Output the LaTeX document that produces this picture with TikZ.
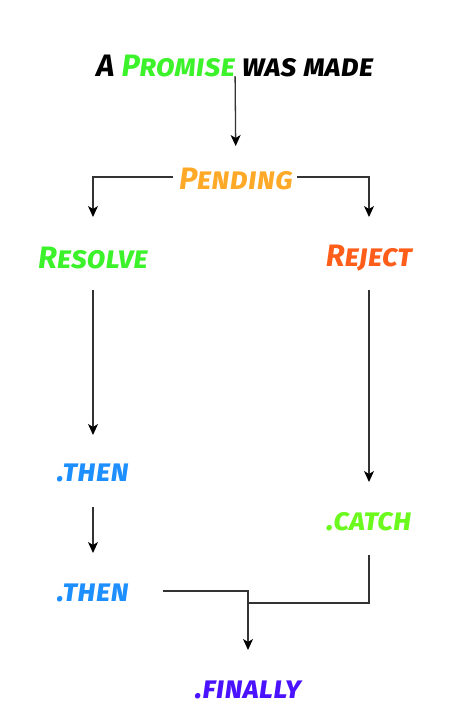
\documentclass[tikz,border=0pt]{standalone}
\usepackage{fontspec}
\setmainfont{Fira Sans}
\usetikzlibrary{arrows.meta}
\definecolor{promisegreen}{HTML}{3CF22A}
\definecolor{pendingorange}{HTML}{FFA928}
\definecolor{rejectorange}{HTML}{FF5E1A}
\definecolor{thenblue}{HTML}{1E8FFF}
\definecolor{catchgreen}{HTML}{6CFA1E}
\definecolor{finallypurple}{HTML}{4A12FF}
\definecolor{linegray}{HTML}{333333}
\tikzset{
    label/.style={inner sep=0pt, font=\fontsize{31}{34}\selectfont\bfseries\itshape\scshape},
    flow/.style={linegray, line width=1.3pt, -{Stealth[length=11pt,width=10pt,inset=3pt,black]}}
}
\begin{document}
\begin{tikzpicture}[x=1pt,y=-1pt]
    \useasboundingbox (0,0) rectangle (456,721);
    % Text of the steps
    \node[label] (made) at (235,66) {A \textcolor{promisegreen}{Promise} was made};
    \node[label, pendingorange] (pending) at (236,179) {Pending};
    \node[label, promisegreen] (resolve) at (93,258) {Resolve};
    \node[label, rejectorange] (reject) at (369,258) {Reject};
    \node[label, thenblue] (thenA) at (93,473) {.then};
    \node[label, thenblue] (thenB) at (93,593) {.then};
    \node[label, catchgreen] (catch) at (369,522) {.catch};
    \node[label, finallypurple] (finally) at (248,690) {.finally};
    \coordinate (join) at (248,603);
    % Arrows between the steps
    \draw[flow, shorten <=10pt, shorten >=33pt] (made.center) -- (pending.center); % Made to pending
    \draw[flow, shorten <=63pt, shorten >=41pt] ([yshift=2pt]pending.center) -| (resolve.center); % Left branch
    \draw[flow, shorten <=61pt, shorten >=41pt] ([yshift=2pt]pending.center) -| (reject.center); % Right branch
    \draw[flow, shorten <=32pt, shorten >=38pt] (resolve.center) -- (thenA.center); % Resolve to then
    \draw[flow, shorten <=34pt, shorten >=40pt] (thenA.center) -- (thenB.center); % Then to then
    \draw[flow, shorten <=32pt, shorten >=40pt] (reject.center) -- (catch.center); % Reject to catch
    \draw[linegray, line width=1.3pt, shorten <=33pt] (catch.center) |- (join); % Catch to join
    \draw[flow, shorten <=70pt, shorten >=40pt] ([yshift=2pt]thenB.center) -| (finally.center); % Then to finally
\end{tikzpicture}
\end{document}
